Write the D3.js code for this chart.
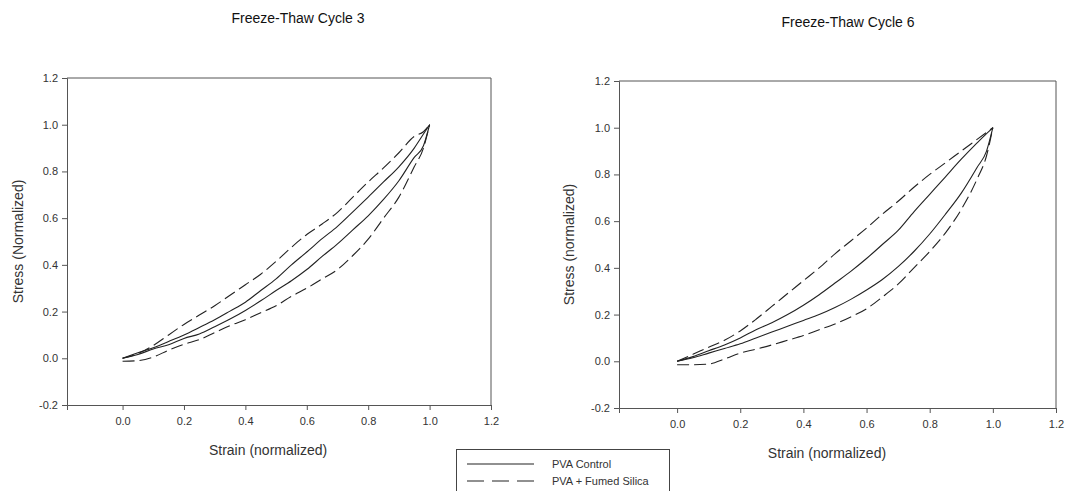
<!DOCTYPE html>
<html>
<head>
<meta charset="utf-8">
<script src="https://cdn.jsdelivr.net/npm/d3@7"></script>
<style>
  body { margin: 0; background: #fff; }
  svg { font-family: "Liberation Sans", Arial, sans-serif; }
  .tick text { fill: #333; font-size: 11px; }
  .tick line, .domain { stroke: #555; }
</style>
</head>
<body>
<div id="vis"></div>
<script>
const WIDTH = 1084, HEIGHT = 491;

// strain sample points (normalized)
const strainPts = [0, 0.05, 0.1, 0.15, 0.2, 0.25, 0.3, 0.35, 0.4, 0.45, 0.5,
                   0.55, 0.6, 0.65, 0.7, 0.75, 0.8, 0.85, 0.9, 0.95, 0.98, 1.0];

// Cycle 3 -- each branch at strainPts
const c3ControlUp   = [0.0, 0.024, 0.045, 0.072, 0.1, 0.132, 0.165, 0.202, 0.24, 0.29, 0.34,
                       0.4, 0.455, 0.512, 0.565, 0.627, 0.69, 0.755, 0.82, 0.9, 0.96, 1.0];
const c3ControlDown = [0.0, 0.016, 0.04, 0.058, 0.085, 0.104, 0.135, 0.168, 0.205, 0.246, 0.29,
                       0.332, 0.38, 0.436, 0.49, 0.55, 0.61, 0.68, 0.76, 0.86, 0.91, 1.0];
const c3SilicaUp    = [0.0, 0.02, 0.055, 0.1, 0.145, 0.185, 0.225, 0.27, 0.315, 0.36, 0.415,
                       0.475, 0.53, 0.575, 0.625, 0.69, 0.755, 0.815, 0.88, 0.95, 0.97, 1.0];
const c3SilicaDown  = [-0.013, -0.01, 0.005, 0.035, 0.06, 0.08, 0.11, 0.14, 0.165, 0.195, 0.225,
                       0.265, 0.3, 0.34, 0.38, 0.44, 0.51, 0.6, 0.69, 0.82, 0.9, 1.0];

// Cycle 6
const c6ControlUp   = [0.0, 0.02, 0.045, 0.07, 0.1, 0.135, 0.165, 0.2, 0.24, 0.285, 0.335,
                       0.385, 0.44, 0.5, 0.56, 0.64, 0.715, 0.79, 0.865, 0.935, 0.975, 1.0];
const c6ControlDown = [0.0, 0.015, 0.035, 0.055, 0.075, 0.1, 0.125, 0.15, 0.175, 0.2, 0.23,
                       0.265, 0.305, 0.35, 0.405, 0.47, 0.545, 0.63, 0.72, 0.83, 0.9, 1.0];
const c6SilicaUp    = [0.0, 0.03, 0.06, 0.09, 0.13, 0.18, 0.235, 0.29, 0.345, 0.4, 0.46,
                       0.515, 0.57, 0.63, 0.685, 0.745, 0.8, 0.85, 0.9, 0.95, 0.98, 1.0];
const c6SilicaDown  = [-0.015, -0.015, -0.012, 0.01, 0.035, 0.052, 0.07, 0.09, 0.11, 0.135, 0.16,
                       0.19, 0.225, 0.275, 0.33, 0.4, 0.47, 0.55, 0.65, 0.78, 0.88, 1.0];

const xTicks = [0.0, 0.2, 0.4, 0.6, 0.8, 1.0, 1.2];
const yTicks = [-0.2, 0.0, 0.2, 0.4, 0.6, 0.8, 1.0, 1.2];

const svg = d3.select("#vis").append("svg")
    .attr("width", WIDTH).attr("height", HEIGHT);

const fmt = d => d3.format(".1f")(d).replace("\u2212", "-");

function drawPanel(p) {
  const X = d3.scaleLinear().domain([p.xmin, 1.2]).range([p.left, p.right]);
  const Y = d3.scaleLinear().domain([-0.2, 1.2]).range([p.bottom, p.top]);

  svg.append("text")
      .attr("x", p.titleX).attr("y", p.titleY)
      .attr("text-anchor", "middle")
      .attr("font-size", "14px").attr("fill", "#111")
      .text(p.title);

  // frame top/right
  svg.append("path")
      .attr("d", `M${p.left},${p.top}H${p.right}V${p.bottom}`)
      .attr("fill", "none").attr("stroke", "#555");

  svg.append("g")
      .attr("transform", "translate(0," + p.bottom + ")")
      .call(d3.axisBottom(X).tickValues(xTicks).tickFormat(fmt)
              .tickSizeOuter(0).tickSize(5).tickPadding(7));

  svg.append("g")
      .attr("transform", "translate(" + p.left + ",0)")
      .call(d3.axisLeft(Y).tickValues(yTicks).tickFormat(fmt)
              .tickSizeOuter(0).tickSize(5).tickPadding(4));

  svg.append("text")
      .attr("x", (X(0) + X(1)) / 2 - 8).attr("y", p.bottom + 50)
      .attr("text-anchor", "middle").attr("font-size", "14px").attr("fill", "#333")
      .text("Strain (normalized)");

  svg.append("text")
      .attr("transform", `translate(${p.ylabX},${(p.top + p.bottom) / 2}) rotate(-90)`)
      .attr("text-anchor", "middle").attr("font-size", "14px").attr("fill", "#333")
      .text(p.ylabel);

  const line = d3.line().curve(d3.curveMonotoneX)
      .x(d => X(d[0])).y(d => Y(d[1]));

  const branches = [
    [p.controlUp, null], [p.controlDown, null],
    [p.silicaUp, "12,5"], [p.silicaDown, "12,5"]
  ];
  branches.forEach(([vals, dash]) => {
    svg.append("path")
        .datum(strainPts.map((s, i) => [s, vals[i]]))
        .attr("d", line)
        .attr("fill", "none").attr("stroke", "#222").attr("stroke-width", 1.1)
        .attr("stroke-dasharray", dash);
  });
}

drawPanel({
  title: "Freeze-Thaw Cycle 3", titleX: 298, titleY: 23,
  left: 67, right: 491, top: 78, bottom: 405, xmin: -0.181,
  ylabel: "Stress (Normalized)", ylabX: 23,
  controlUp: c3ControlUp, controlDown: c3ControlDown,
  silicaUp: c3SilicaUp, silicaDown: c3SilicaDown
});

drawPanel({
  title: "Freeze-Thaw Cycle 6", titleX: 848, titleY: 27,
  left: 619, right: 1056, top: 81, bottom: 408, xmin: -0.184,
  ylabel: "Stress (normalized)", ylabX: 574,
  controlUp: c6ControlUp, controlDown: c6ControlDown,
  silicaUp: c6SilicaUp, silicaDown: c6SilicaDown
});

// legend
const legendItems = ["PVA Control", "PVA + Fumed Silica"];
const leg = svg.append("g");
leg.append("rect")
    .attr("x", 456.5).attr("y", 449.5).attr("width", 213).attr("height", 60)
    .attr("fill", "#fff").attr("stroke", "#444");
legendItems.forEach((name, i) => {
  const y = 464 + i * 17;
  leg.append("line")
      .attr("x1", 467).attr("x2", 534).attr("y1", y).attr("y2", y)
      .attr("stroke", "#222").attr("stroke-width", 1.1)
      .attr("stroke-dasharray", i ? "17,8" : null);
  leg.append("text")
      .attr("x", 552).attr("y", y + 4)
      .attr("font-size", "11px").attr("fill", "#333")
      .text(name);
});
</script>
</body>
</html>
